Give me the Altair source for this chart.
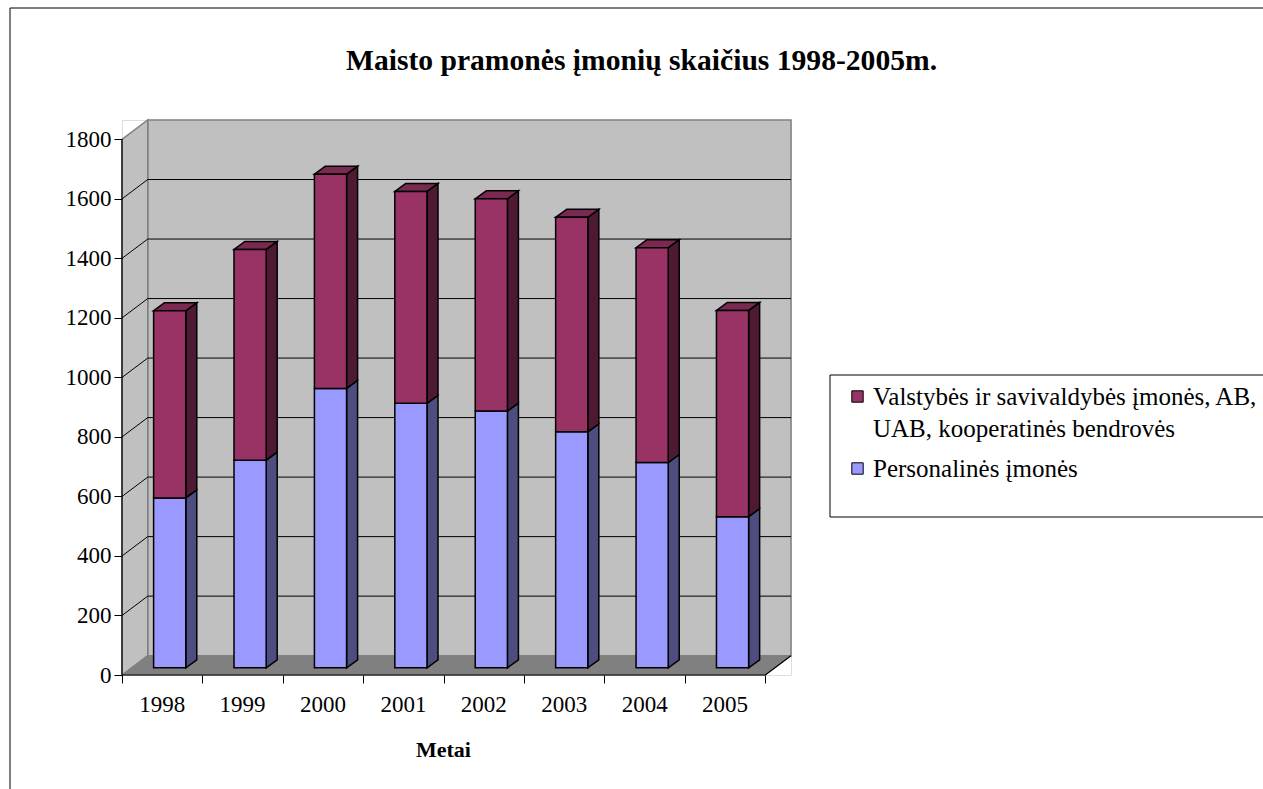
import altair as alt
import pandas as pd

# Number of food-industry companies by year, stacked by company type
years = ["1998", "1999", "2000", "2001", "2002", "2003", "2004", "2005"]
personalines = [571, 698, 939, 889, 863, 793, 690, 508]
valstybines = [629, 708, 720, 712, 713, 721, 722, 693]
series = [
    "Valstybės ir savivaldybės įmonės, AB, UAB, kooperatinės bendrovės",
    "Personalinės įmonės",
]
legend_lines = ["Valstybės ir savivaldybės įmonės, AB,", "UAB, kooperatinės bendrovės"]
y_ticks = [0, 200, 400, 600, 800, 1000, 1200, 1400, 1600, 1800]

FONT = "Liberation Serif"
W, H = 669, 555

# Oblique 3D projection, expressed in data units of the two scales
X_MAX, Y_MAX = 8.32, 1865
WALL_DX, WALL_DY = 0.32, 65          # depth of the back wall
BAR_SHIFT, BAR_W = 0.093, 0.40       # front face of a column
BAR_DZ = 24                          # lift of the column's front plane
SIDE_DX, SIDE_DY = 0.137, 27         # thickness of a column

front_col = {series[0]: "#993366", series[1]: "#9999FF"}
side_col = {series[0]: "#4D1933", series[1]: "#4D4D80"}
top_col = {series[0]: "#7A2952", series[1]: "#7A7ACC"}

fronts, sides, tops = [], [], []
for i, yr in enumerate(years):
    xl = i + 0.5 + BAR_SHIFT - BAR_W / 2
    xr = xl + BAR_W
    base = 0
    stack = [(series[1], personalines[i]), (series[0], valstybines[i])]
    for k, (name, val) in enumerate(stack):
        b, t = base + BAR_DZ, base + val + BAR_DZ
        sid = f"{yr}-{k}"
        fronts.append(dict(year=yr, series=name, value=val, x=xl, x2=xr, y=b, y2=t))
        sides.append(dict(id=sid, fill=side_col[name], x=xr, y=b, y2=t))
        sides.append(dict(id=sid, fill=side_col[name], x=xr + SIDE_DX,
                          y=b + SIDE_DY, y2=t + SIDE_DY))
        base += val
    name = stack[-1][0]
    t = base + BAR_DZ
    tops.append(dict(id=yr, fill=top_col[name], y=t, x=xl, x2=xr))
    tops.append(dict(id=yr, fill=top_col[name], y=t + SIDE_DY,
                     x=xl + SIDE_DX, x2=xr + SIDE_DX))

fronts = pd.DataFrame(fronts)
sides = pd.DataFrame(sides)
tops = pd.DataFrame(tops)

n = len(years)
xs = alt.Scale(domain=[0, X_MAX], nice=False, zero=False)
ys = alt.Scale(domain=[0, Y_MAX], nice=False, zero=False)

one = pd.DataFrame({"k": [0]})

# outer frame of the chart and the legend box
frame = alt.Chart(one).mark_rect(fill="white", fillOpacity=0, stroke="black", strokeWidth=1).encode(
    x=alt.value(10 - 122), x2=alt.value(1400), y=alt.value(8 - 120), y2=alt.value(900)
)
legend_box = alt.Chart(one).mark_rect(fill="white", stroke="black", strokeWidth=1).encode(
    x=alt.value(830 - 122), x2=alt.value(1400), y=alt.value(375 - 120), y2=alt.value(517 - 120)
)

back_wall = alt.Chart(pd.DataFrame(
    {"x": [WALL_DX], "x2": [n + WALL_DX], "y": [WALL_DY], "y2": [1800 + WALL_DY]}
)).mark_rect(fill="#C0C0C0", stroke="#808080", strokeWidth=1.5).encode(
    x=alt.X("x:Q", scale=xs, axis=alt.Axis(
        values=list(range(n + 1)), labels=False, domain=False, grid=False,
        ticks=True, tickSize=8, tickColor="black", tickWidth=1, zindex=1,
        title="Metai", titleFont=FONT, titleFontSize=22, titleFontWeight="bold",
        titleColor="black", titleX=321, titleY=81, titleBaseline="alphabetic",
        titleAlign="center")),
    x2="x2:Q",
    y=alt.Y("y:Q", scale=ys, axis=alt.Axis(
        values=y_ticks, format="d", grid=False, domain=False, tickSize=8,
        tickColor="black", labelFont=FONT, labelFontSize=23, labelColor="black",
        labelPadding=3, zindex=1, title=None)),
    y2="y2:Q",
)

left_wall = alt.Chart(pd.DataFrame(
    {"id": ["w", "w"], "x": [0, WALL_DX], "y": [0, WALL_DY], "y2": [1800, 1800 + WALL_DY]}
)).mark_area(orient="vertical", fill="#C0C0C0", stroke="#808080", strokeWidth=1.5).encode(
    x=alt.X("x:Q", scale=xs, axis=None),
    y=alt.Y("y:Q", scale=ys, axis=None),
    y2="y2:Q",
    detail="id:N",
)

floor = alt.Chart(pd.DataFrame(
    {"id": ["f", "f"], "y": [0, WALL_DY], "x": [0, WALL_DX], "x2": [n, n + WALL_DX]}
)).mark_area(orient="horizontal", fill="#808080", stroke="#808080", strokeWidth=1).encode(
    y=alt.Y("y:Q", scale=ys, axis=None),
    x=alt.X("x:Q", scale=xs, axis=None),
    x2="x2:Q",
    detail="id:N",
)

grid_vals = y_ticks[1:-1]
grid_back = alt.Chart(pd.DataFrame(
    {"x": [WALL_DX] * len(grid_vals), "x2": [n + WALL_DX] * len(grid_vals),
     "y": [v + WALL_DY for v in grid_vals]}
)).mark_rule(color="black", strokeWidth=1).encode(
    x=alt.X("x:Q", scale=xs, axis=None), x2="x2:Q",
    y=alt.Y("y:Q", scale=ys, axis=None),
)
grid_side = alt.Chart(pd.DataFrame(
    {"x": [0] * len(grid_vals), "x2": [WALL_DX] * len(grid_vals),
     "y": grid_vals, "y2": [v + WALL_DY for v in grid_vals]}
)).mark_rule(color="black", strokeWidth=1).encode(
    x=alt.X("x:Q", scale=xs, axis=None), x2="x2:Q",
    y=alt.Y("y:Q", scale=ys, axis=None), y2="y2:Q",
)

edges = alt.Chart(pd.DataFrame({
    "x": [0, 0, n], "x2": [0, n, n + WALL_DX],
    "y": [0, 0, 0], "y2": [1800, 0, WALL_DY],
})).mark_rule(color="black", strokeWidth=1.2).encode(
    x=alt.X("x:Q", scale=xs, axis=None), x2="x2:Q",
    y=alt.Y("y:Q", scale=ys, axis=None), y2="y2:Q",
)

bar_sides = alt.Chart(sides).mark_area(
    orient="vertical", stroke="black", strokeWidth=1.5, strokeJoin="miter"
).encode(
    x=alt.X("x:Q", scale=xs, axis=None),
    y=alt.Y("y:Q", scale=ys, axis=None),
    y2="y2:Q",
    detail="id:N",
    fill=alt.Fill("fill:N", scale=None),
)

bar_tops = alt.Chart(tops).mark_area(
    orient="horizontal", stroke="black", strokeWidth=1.5, strokeJoin="miter"
).encode(
    y=alt.Y("y:Q", scale=ys, axis=None),
    x=alt.X("x:Q", scale=xs, axis=None),
    x2="x2:Q",
    detail="id:N",
    fill=alt.Fill("fill:N", scale=None),
)

label_expr = (
    "datum.label == '" + series[0] + "' ? ['" + legend_lines[0] + "', '"
    + legend_lines[1] + "'] : datum.label"
)

bar_fronts = alt.Chart(fronts).mark_rect(stroke="black", strokeWidth=1.5).encode(
    x=alt.X("x:Q", scale=xs, axis=None), x2="x2:Q",
    y=alt.Y("y:Q", scale=ys, axis=None), y2="y2:Q",
    color=alt.Color("series:N", scale=alt.Scale(
        domain=series, range=[front_col[series[0]], front_col[series[1]]]),
        legend=alt.Legend(
            title=None, orient="none", legendX=723, legendY=264,
            labelFont=FONT, labelFontSize=25, labelColor="black", labelLimit=800,
            labelExpr=label_expr, symbolType="square", symbolSize=130,
            symbolStrokeColor="black", symbolStrokeWidth=1, rowPadding=14,
            labelOffset=3,
        )),
)

year_labels = alt.Chart(pd.DataFrame(
    {"year": years, "x": [i + 0.5 for i in range(n)], "y": [0] * n}
)).mark_text(font=FONT, fontSize=23, color="black", baseline="middle", dy=30).encode(
    x=alt.X("x:Q", scale=xs, axis=None),
    y=alt.Y("y:Q", scale=ys, axis=None),
    text="year:N",
)

chart = alt.layer(
    frame, legend_box, back_wall, left_wall, floor, grid_back, grid_side, edges,
    bar_sides, bar_tops, bar_fronts, year_labels,
).properties(
    width=W, height=H,
    autosize=alt.AutoSizeParams(type="none"),
    padding={"left": 122, "top": 120, "right": 1263 - 122 - W, "bottom": 789 - 120 - H},
    title=alt.TitleParams(
        "Maisto pramonės įmonių skaičius 1998-2005m.", font=FONT, fontSize=29.6,
        fontWeight="bold", color="black", anchor="middle", frame="group",
        dx=185, offset=0, dy=92, baseline="alphabetic",
    ),
).resolve_axis(x="independent", y="independent").configure_view(
    stroke=None
).configure(style={"guide-label": {"lineHeight": 32, "font": FONT, "fill": "black"}})

chart.save("out.html", embed_options={"renderer": "svg", "actions": False})
